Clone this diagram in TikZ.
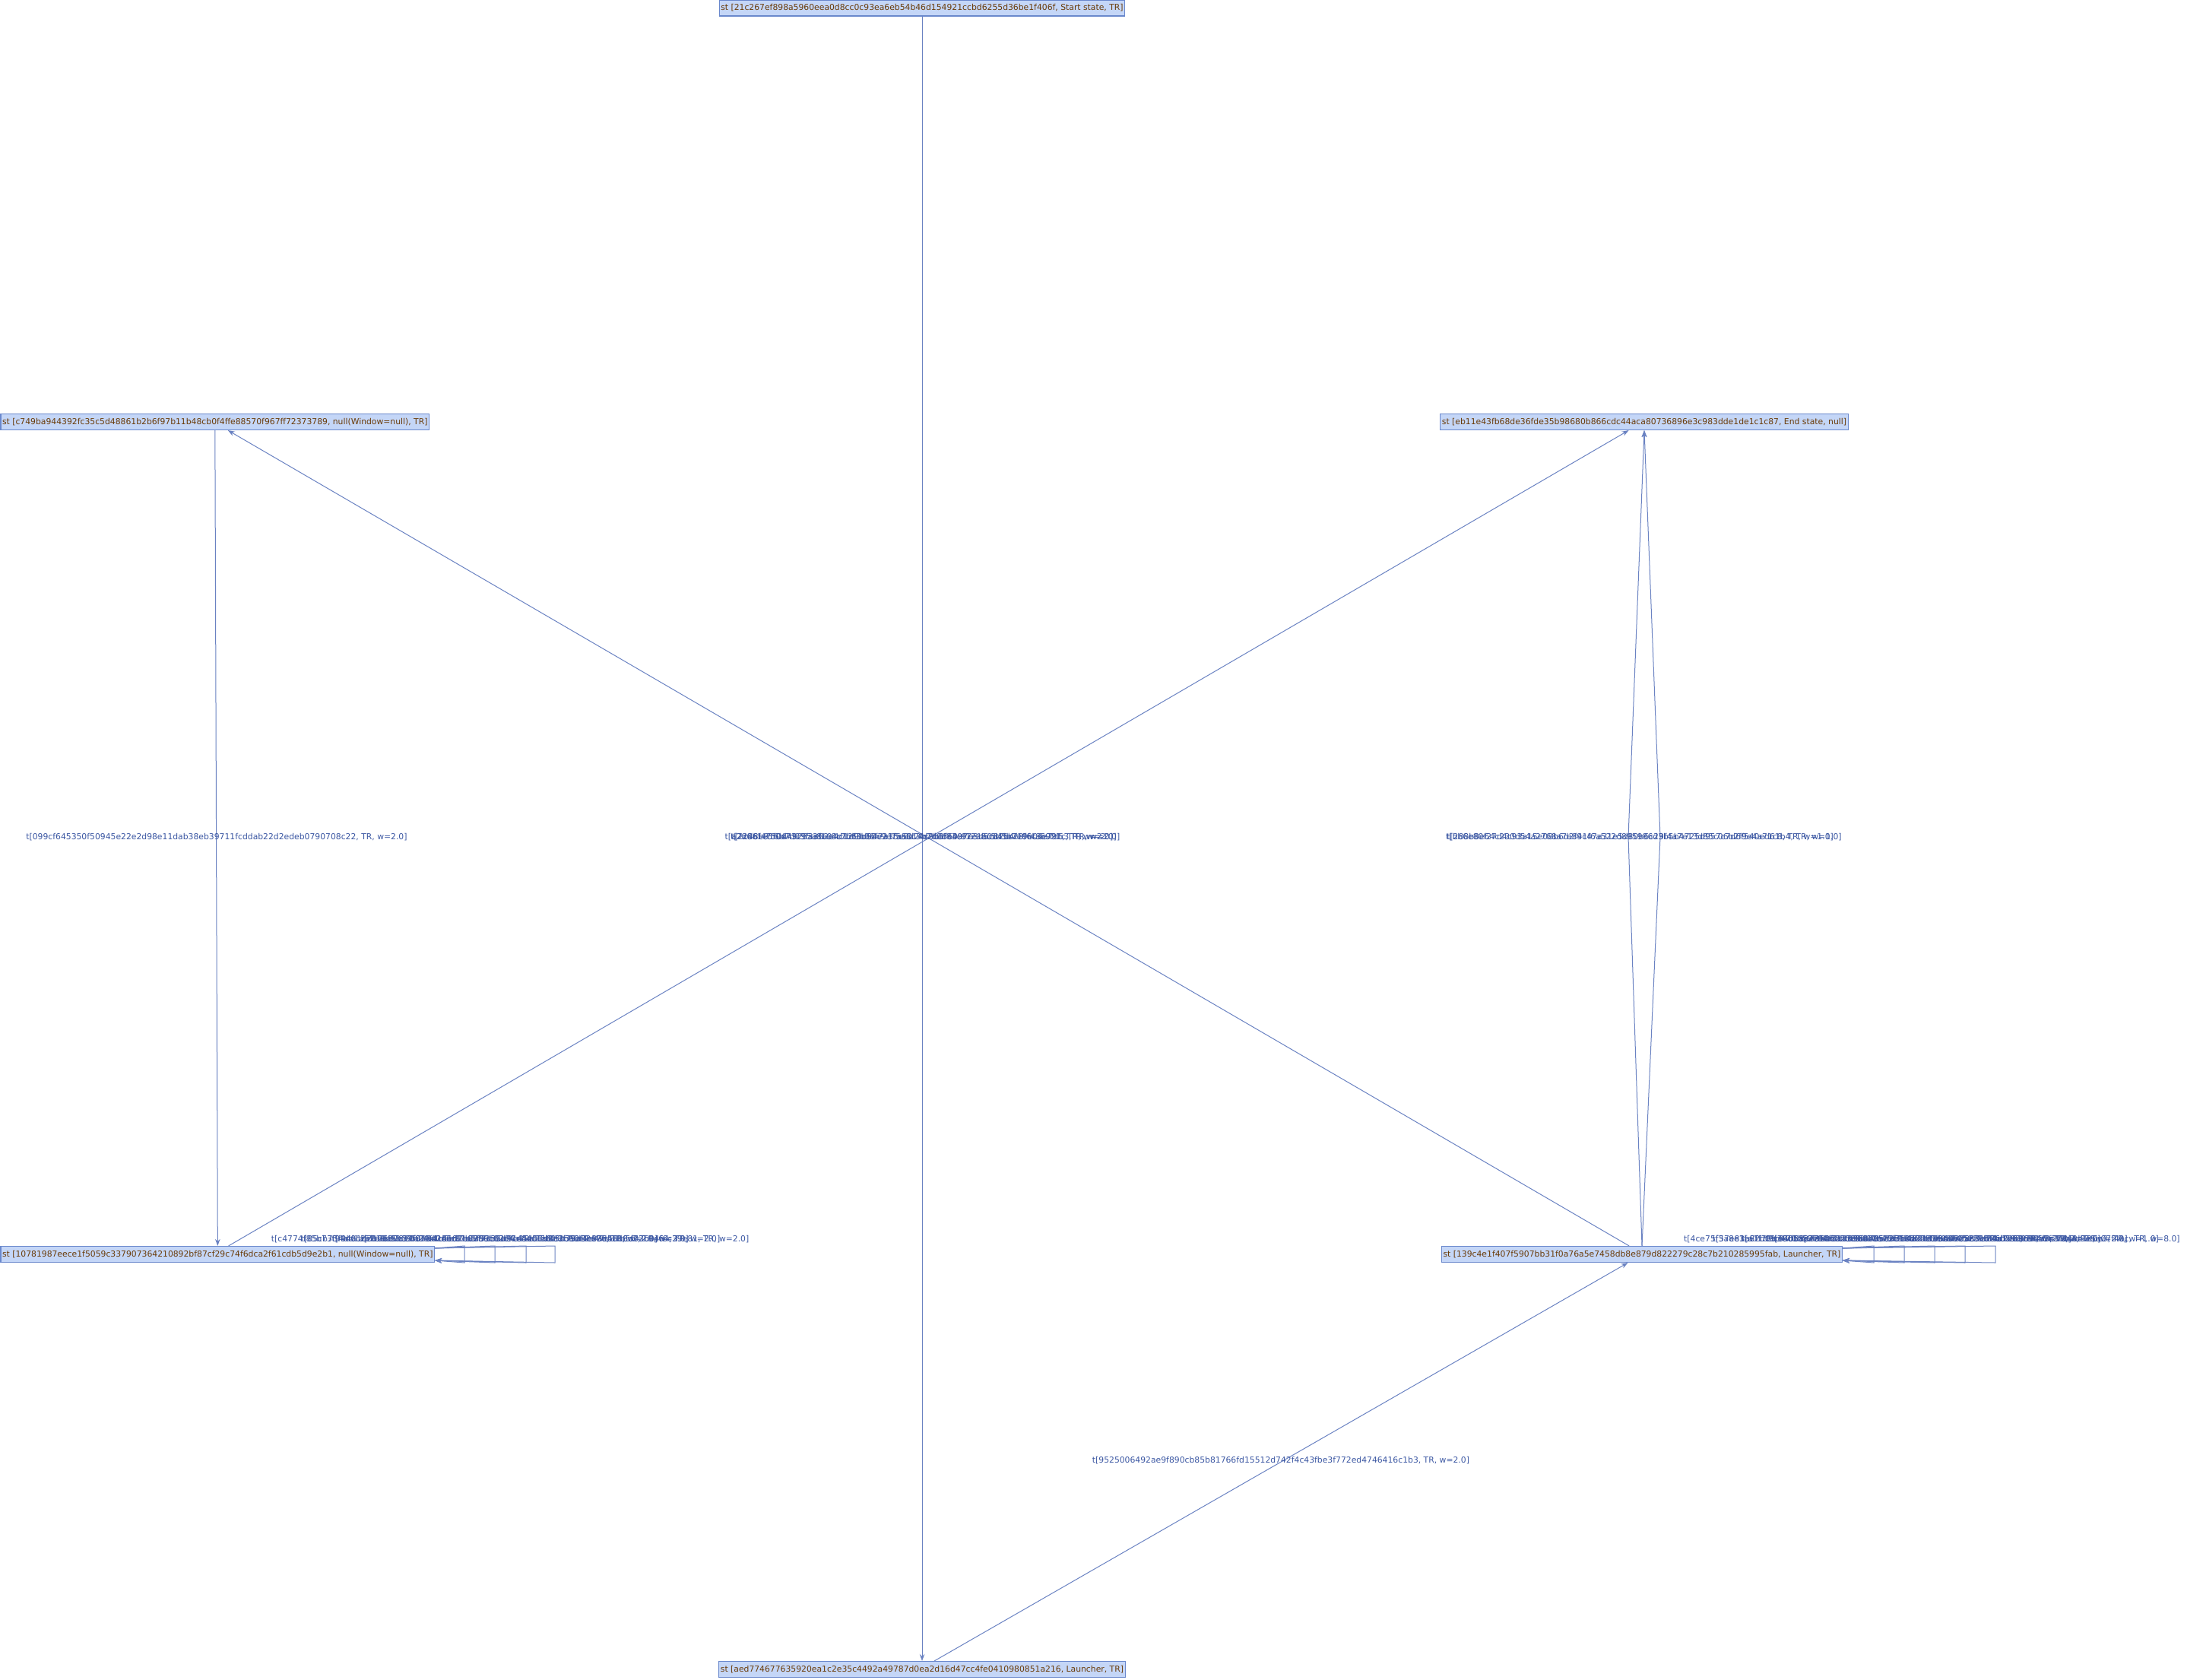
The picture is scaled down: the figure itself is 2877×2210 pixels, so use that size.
\documentclass[tikz,border=0pt]{standalone}
\usepackage{fontspec}
\setmainfont{DejaVu Sans}
\usetikzlibrary{arrows.meta,calc}
\definecolor{stfill}{HTML}{C4D6F7}
\definecolor{stdraw}{HTML}{6A88CC}
\definecolor{sttext}{HTML}{6A3B08}
\definecolor{edgec}{HTML}{6A82C2}
\definecolor{lblc}{HTML}{3A56A2}
\begin{document}
\begin{tikzpicture}[x=1pt,y=-1pt,
  state/.style={draw=stdraw, fill=stfill, text=sttext, font=\fontsize{10.8}{12}\selectfont,
    inner xsep=2pt, inner ysep=0pt, minimum height=21pt, line width=1.1pt},
  tr/.style={draw=edgec, line width=1pt, -{Stealth[length=9pt,width=6.5pt]}},
  lab/.style={text=lblc, font=\fontsize{10.8}{12}\selectfont, inner sep=0pt}]
\useasboundingbox (0,0) rectangle (2877,2210);

% states
\node[state] (s0) at (1213,10.5) {st [21c267ef898a5960eea0d8cc0c93ea6eb54b46d154921ccbd6255d36be1f406f, Start state, TR]};
\node[state, anchor=west] (s1) at (0.5,555) {st [c749ba944392fc35c5d48861b2b6f97b11b48cb0f4ffe88570f967ff72373789, null(Window=null), TR]};
\node[state] (s2) at (2163,555) {st [eb11e43fb68de36fde35b98680b866cdc44aca80736896e3c983dde1de1c1c87, End state, null]};
\node[state, anchor=west] (s3) at (0.5,1650) {st [10781987eece1f5059c337907364210892bf87cf29c74f6dca2f61cdb5d9e2b1, null(Window=null), TR]};
\node[state] (s4) at (2160,1650) {st [139c4e1f407f5907bb31f0a76a5e7458db8e879d822279c28c7b210285995fab, Launcher, TR]};
\node[state] (s5) at (1213,2196) {st [aed774677635920ea1c2e35c4492a49787d0ea2d16d47cc4fe0410980851a216, Launcher, TR]};

% transitions between states
\draw[tr] (s0) -- (s5);
\draw[tr] (s1.south) -- (s3.north);
\draw[tr] ($(s4.north west)!0.468!(s4.north east)$) -- ($(s1.south west)!0.53!(s1.south east)$);
\draw[tr] ($(s3.north west)!0.525!(s3.north east)$) -- ($(s2.south west)!0.462!(s2.south east)$);
\draw[tr] ($(s5.north west)!0.53!(s5.north east)$) -- ($(s4.south west)!0.465!(s4.south east)$);
\coordinate (bl) at (2142,1101);
\coordinate (br) at (2184,1101);
\draw[tr] (s4.north) -- (bl) -- (s2.south);
\draw[tr] (s4.north) -- (br) -- (s2.south);

% self loops
\foreach \x in {611,651,692,730}
  \draw[tr] ($(s3.north east)+(0,3)$) -- (\x,1639) -- (\x,1661) -- ($(s3.south east)+(0,-3)$);
\foreach \x in {2465,2505,2545,2585,2625}
  \draw[tr] ($(s4.north east)+(0,3)$) -- (\x,1639) -- (\x,1661) -- ($(s4.south east)+(0,-3)$);

% labels
\node[lab] (l1) at (285,1101) {t[099cf645350f50945e22e2d98e11dab38eb39711fcddab22d2edeb0790708c22, TR, w=2.0]};
\node[lab] (l2) at (1685,1921) {t[9525006492ae9f890cb85b81766fd15512d742f4c43fbe3f772ed4746416c1b3, TR, w=2.0]};
\node[lab] (l3) at (1209,1101) {t[a2d6b1e5f0473c95a8e04d12f3b68c9e7a5014d2b6f83c97e1a0d45b28f6c3e791, TR, w=2.0]};
\node[lab] (l4) at (1215,1101) {t[2286f4750d4925a3f1e8c7b60d94e21f5a8c3b7d06e49f12a8c5d3b7e0f4a6921c, TR, w=2.0]};
\node[lab] (l5) at (1218,1101) {t[2c48e916b7d05f3a82e4c1d9b06f7a35e8d24c9b1f60a7e3d5c82b4f19e06a7d53, TR, w=2.0]};
\node[lab] (l6) at (2157,1101) {t[bb6e80f27d4c93a15e08b6d2f9c47a31e5d80b6c29f4a7e13d85c06b2f9e4a71c8, TR, w=1.0]};
\node[lab] (l7) at (2163,1101) {t[288b8e64c230d54a2768a7e841f6a522d895986d3b5b4725d957c7d6f540ed61b4, TR, w=1.0]};
\node[lab] (l8) at (611,1630) {t[c4774f85b73f94d0c2e816a5b39f07d42e6c81a5f93b0d27e64c1a8f5b39d02e76, TR, w=2.0]};
\node[lab] (l9) at (651,1630) {t[85cb73f94a1d2b6e80c57f3a9d14e62b08f7c35a91e4d06b2c8f75a3e19d40b6c2, TR, w=2.0]};
\node[lab] (l10) at (692,1630) {t[4dd1a57e8b93c06f24a1d5e87b3f09c62e4a18d75b0f3c96e2a47d81b5f03c9e64, TR, w=2.0]};
\node[lab] (l11) at (730,1630) {t[d126b78e0a39f4c51d7e82a6b03f9c45e17d8a2b60f4c93e5a18d72b04f6c39e81, TR, w=2.0]};
\node[lab] (l12) at (2470,1630) {t[4ce75f3a8e1b62d09c47f5a3e81b6d20c9f47a5e3b18d62c0f94a7e5b31d86c2a0, TR, w=1.0]};
\node[lab] (l13) at (2508,1630) {t[57e83a2f1d9c64b08e7a53f2c1d96b40e8a75c3f2d19b64e0a87c5f3d21b96e4a7, TR, w=2.0]};
\node[lab] (l14) at (2545,1630) {t[a1f78d36c0b52e94f7a13d68c0b25e9f4a71d36c8b05e29f74a1d63c8b50e2f9a4, TR, w=2.0]};
\node[lab] (l15) at (2585,1630) {t[e90b5c27f4a81d63e0b95c2f7a48d16e3b09c52f7a84d1e63b90c5f27a48d1e6c3, TR, w=1.0]};
\node[lab] (l16) at (2618,1630) {t[6f3e1c2bd95a07e48f3c1b2d95e0a74f8c3e12bd59a0e74f8c31b2d9e5a07f4ac, TR, w=8.0]};
\end{tikzpicture}
\end{document}
